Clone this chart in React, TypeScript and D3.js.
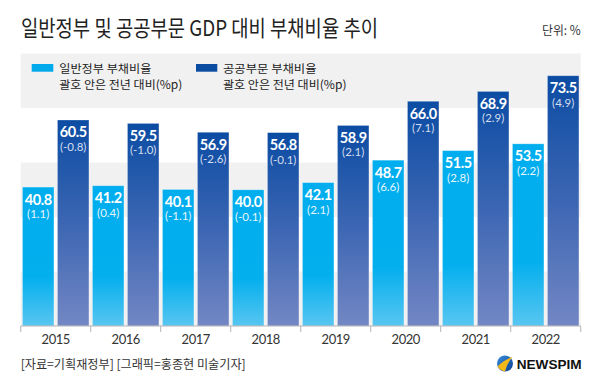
import React from 'react';
import * as d3 from 'd3';

const years = ['2015', '2016', '2017', '2018', '2019', '2020', '2021', '2022'];
const generalGov = [40.8, 41.2, 40.1, 40.0, 42.1, 48.7, 51.5, 53.5];
const generalChange = ['(1.1)', '(0.4)', '(-1.1)', '(-0.1)', '(2.1)', '(6.6)', '(2.8)', '(2.2)'];
const publicSector = [60.5, 59.5, 56.9, 56.8, 58.9, 66.0, 68.9, 73.5];
const publicChange = ['(-0.8)', '(-1.0)', '(-2.6)', '(-0.1)', '(2.1)', '(7.1)', '(2.9)', '(4.9)'];
const bandTicks = [0, 16, 32, 48, 64, 80];
const seriesKeys = ['general', 'public'];

const W = 600;
const H = 390;
const LABEL_FONT = 'Lato, "Noto Sans CJK KR", sans-serif';
const KR_FONT = '"Noto Sans CJK KR", "Noto Sans", sans-serif';

const App: React.FC = () => {
  const x = d3.scaleBand<string>().domain(years).range([20.7, 580.7]).padding(0);
  const inner = d3.scaleBand<string>().domain(seriesKeys).range([0, x.bandwidth()])
    .paddingInner(0.1).paddingOuter(0.05);
  const y = d3.scaleLinear().domain([0, 80]).range([326, 53.6]);

  const bars = years.flatMap((yr, i) => [
    { yr, key: 'general', v: generalGov[i], chg: generalChange[i] },
    { yr, key: 'public', v: publicSector[i], chg: publicChange[i] },
  ]);

  return (
    <div style={{ position: 'absolute', left: 0, top: 0 }}>
      <svg width={W} height={H} style={{ display: 'block', background: '#fff' }}>
        <defs>
          <linearGradient id="g-light" x1="0" y1="0" x2="0" y2="1">
            <stop offset="0%" stopColor="#00adee" />
            <stop offset="65%" stopColor="#04afee" />
            <stop offset="100%" stopColor="#58c6f1" />
          </linearGradient>
          <linearGradient id="g-dark" x1="0" y1="0" x2="0" y2="1">
            <stop offset="0%" stopColor="#0b4ca3" />
            <stop offset="50%" stopColor="#3c66b3" />
            <stop offset="100%" stopColor="#7387c4" />
          </linearGradient>
          <linearGradient id="g-logo" x1="0" y1="0" x2="1" y2="1">
            <stop offset="0%" stopColor="#3a8ee0" />
            <stop offset="100%" stopColor="#0a3f8f" />
          </linearGradient>
        </defs>

        {/* title */}
        <text x={21} y={36} fontFamily={KR_FONT} fontSize={22} fill="#222"
          textLength={357} lengthAdjust="spacingAndGlyphs">
          일반정부 및 공공부문 GDP 대비 부채비율 추이
        </text>
        <text x={580.7} y={35} textAnchor="end" fontFamily={KR_FONT} fontSize={12.5} fill="#333"
          textLength={38.7} lengthAdjust="spacingAndGlyphs">
          단위: %
        </text>

        {/* background bands */}
        {bandTicks.slice(0, -1).map((t, i) => (
          i % 2 === 0 ? (
            <rect key={t} x={x.range()[0]} width={x.range()[1] - x.range()[0]}
              y={y(bandTicks[i + 1])} height={y(t) - y(bandTicks[i + 1])} fill="#f1f1f1" />
          ) : null
        ))}

        {/* legend */}
        <rect x={31.7} y={64} width={21.6} height={7.7} fill="#00a9ec" />
        <text x={59.3} y={72.5} fontFamily={KR_FONT} fontSize={11.5} fill="#222"
          textLength={92} lengthAdjust="spacingAndGlyphs">일반정부 부채비율</text>
        <text x={59.3} y={88.5} fontFamily={KR_FONT} fontSize={11.5} fill="#222"
          textLength={123} lengthAdjust="spacingAndGlyphs">괄호 안은 전년 대비(%p)</text>
        <rect x={196} y={64} width={21.3} height={7.7} fill="#0b4ca3" />
        <text x={223} y={72.5} fontFamily={KR_FONT} fontSize={11.5} fill="#222"
          textLength={93.5} lengthAdjust="spacingAndGlyphs">공공부문 부채비율</text>
        <text x={223} y={88.5} fontFamily={KR_FONT} fontSize={11.5} fill="#222"
          textLength={123.5} lengthAdjust="spacingAndGlyphs">괄호 안은 전년 대비(%p)</text>

        {/* bars */}
        {bars.map(b => {
          const bx = (x(b.yr) as number) + (inner(b.key) as number);
          const bw = inner.bandwidth();
          const top = y(b.v);
          return (
            <g key={b.yr + b.key}>
              <rect x={bx} y={top} width={bw} height={y(0) - top}
                fill={b.key === 'general' ? 'url(#g-light)' : 'url(#g-dark)'}
                stroke="rgba(255,255,255,0.35)" strokeWidth={0.8} />
              <text x={bx + bw / 2} y={top + 17.5} textAnchor="middle" fontFamily={LABEL_FONT}
                fontWeight={700} fontSize={14.5} fill="#fff" letterSpacing={-0.4}>
                {b.v.toFixed(1)}
              </text>
              <text x={bx + bw / 2} y={top + 31} textAnchor="middle" fontFamily={LABEL_FONT}
                fontSize={11.5} fill={b.key === 'general' ? '#e6f6fd' : '#d4def0'}>
                {b.chg}
              </text>
            </g>
          );
        })}

        {/* axis */}
        <line x1={x.range()[0]} x2={x.range()[1]} y1={y(0)} y2={y(0)} stroke="#b5b5b5" strokeWidth={1} />
        {[...years.map(yr => x(yr) as number), x.range()[1]].map((tx, i) => (
          <line key={i} x1={tx} x2={tx} y1={y(0)} y2={y(0) + 6} stroke="#b5b5b5" strokeWidth={1} />
        ))}
        {years.map(yr => (
          <text key={yr} x={(x(yr) as number) + x.bandwidth() / 2} y={343.5} textAnchor="middle"
            fontFamily={LABEL_FONT} fontSize={13} fill="#333" letterSpacing={-0.5}>
            {yr}
          </text>
        ))}

        {/* source */}
        <text x={20.7} y={369} fontFamily={KR_FONT} fontSize={12.5} fill="#333"
          textLength={225} lengthAdjust="spacingAndGlyphs">
          [자료=기획재정부] [그래픽=홍종현 미술기자]
        </text>

        {/* logo */}
        <circle cx={505} cy={363.5} r={8} fill="url(#g-logo)" />
        <path d="M497.6,366.5 Q503,360 512.5,357 Q507,363 505,371.5 Q500,370.5 497.6,366.5 Z" fill="#f5b818" />
        <text x={516.7} y={368.5} fontFamily='"Liberation Sans", Roboto, sans-serif' fontWeight={700}
          fontSize={12.5} fill="#111" textLength={65} lengthAdjust="spacingAndGlyphs">
          NEWSPIM
        </text>
      </svg>
    </div>
  );
};

export default App;
